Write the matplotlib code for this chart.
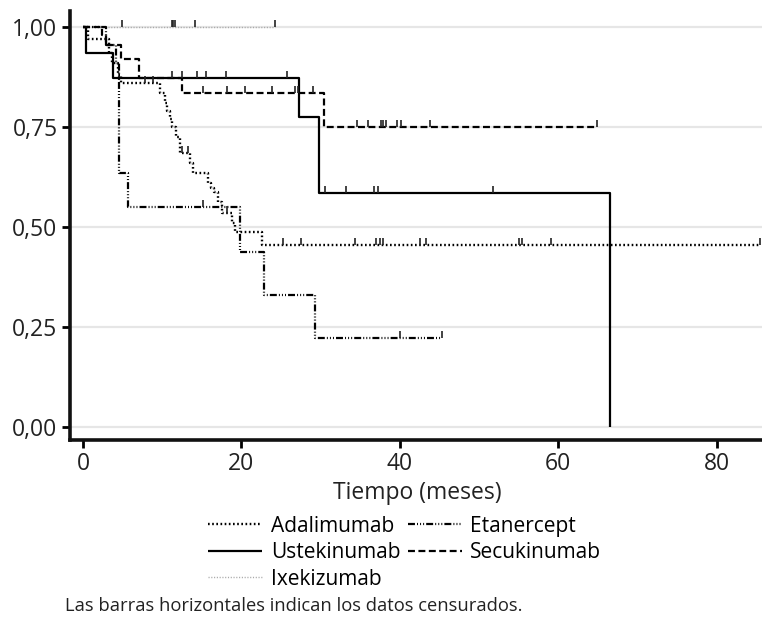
import matplotlib
matplotlib.use("Agg")
import matplotlib.pyplot as plt
import numpy as np

plt.rcParams['font.family'] = ['Open Sans', 'DejaVu Sans']
plt.rcParams['lines.scale_dashes'] = False

# Kaplan-Meier steps: time of each step and survival after it
ada_t = [0, 0.6, 3.3, 3.7, 4.4, 4.8, 9.7, 10.3, 10.6, 11.0, 11.2, 11.8, 12.3,
         13.5, 13.9, 15.8, 16.2, 16.6, 17.1, 17.5, 18.8, 19.2, 22.6]
ada_s = [1.0, 0.97, 0.935, 0.91, 0.88, 0.86, 0.835, 0.81, 0.79, 0.77, 0.75,
         0.725, 0.685, 0.66, 0.635, 0.61, 0.5975, 0.5875, 0.5625, 0.535, 0.51,
         0.4875, 0.455]
ada_end = 85.5
ada_cens = [7.8, 8.8, 12.5, 13.3, 18.2, 25.2, 27.5, 34.3, 37.0, 37.5, 37.9,
            42.6, 43.3, 55.0, 55.4, 59.1, 85.5]

eta_t = [0, 2.9, 4.2, 4.6, 5.7, 19.8, 22.8, 29.3]
eta_s = [1.0, 0.955, 0.91, 0.635, 0.55, 0.4375, 0.33, 0.2225]
eta_end = 45.3
eta_cens = [15.2, 40.0, 45.3]

ust_t = [0, 0.4, 3.8, 27.3, 29.8, 66.6]
ust_s = [1.0, 0.935, 0.872, 0.775, 0.585, 0.0]
ust_end = 66.6
ust_cens = [11.2, 12.5, 14.4, 15.5, 18.1, 25.8, 30.6, 33.2, 36.8, 37.2, 51.8]

sec_t = [0, 2.35, 2.9, 4.8, 7.05, 12.5, 30.4]
sec_s = [1.0, 0.98, 0.955, 0.92, 0.872, 0.835, 0.75]
sec_end = 64.9
sec_cens = [15.1, 18.2, 20.4, 23.9, 26.8, 27.1, 29.0, 34.6, 36.0, 37.6, 37.9,
            38.2, 39.6, 40.1, 43.8, 64.9]

ixe_t = [0]
ixe_s = [1.0]
ixe_end = 24.2
ixe_cens = [4.9, 11.2, 11.4, 11.6, 14.1, 24.2]

y_ticks = [0.0, 0.25, 0.5, 0.75, 1.0]
y_labels = ["0,00", "0,25", "0,50", "0,75", "1,00"]
x_ticks = [0, 20, 40, 60, 80]

################################################################################

def km(ax, t, s, end, cens, label, **kw):
   tt = list(t) + [end]
   ss = list(s) + [s[-1]]
   line, = ax.step(tt, ss, where="post", label=label, solid_capstyle="butt",
                   dash_capstyle="butt", **kw)
   idx = np.searchsorted(t, cens, side="right") - 1
   yc = np.array(s)[idx]
   ax.vlines(cens, yc, yc + 0.018, color="#222222", lw=1.2, zorder=4)
   return line

fig = plt.figure(figsize=(7.62, 6.28), dpi=100)
ax = fig.add_axes([0.0919, 0.2994, 0.9081, 0.6831])

for y in y_ticks:
   ax.axhline(y, color="#e6e6e6", lw=1.6, zorder=0)

h_ada = km(ax, ada_t, ada_s, ada_end, ada_cens, "Adalimumab", color="black",
           lw=1.7, linestyle=(0, (1.2, 1.8)), zorder=3)
h_ust = km(ax, ust_t, ust_s, ust_end, ust_cens, "Ustekinumab", color="black",
           lw=1.6, zorder=3)
h_ixe = km(ax, ixe_t, ixe_s, ixe_end, ixe_cens, "Ixekizumab", color="#a8a8a8",
           lw=1.0, linestyle=(0, (0.8, 1.2)), zorder=2)
h_eta = km(ax, eta_t, eta_s, eta_end, eta_cens, "Etanercept", color="black",
           lw=1.6, linestyle=(0, (5, 1.5, 0.7, 1.5, 0.7, 1.5, 0.7, 1.5)), zorder=3)
h_sec = km(ax, sec_t, sec_s, sec_end, sec_cens, "Secukinumab", color="black",
           lw=1.6, linestyle=(0, (5, 2.5)), zorder=3)

ax.set_xlim(-1.64, 85.73)
ax.set_ylim(-0.032, 1.04)
ax.set_xticks(x_ticks)
ax.set_yticks(y_ticks)
ax.set_yticklabels(y_labels)
ax.tick_params(axis="both", direction="out", length=6, width=2, labelsize=16.5,
               colors="black", labelcolor="#222222", pad=3)
for side in ["top", "right"]:
   ax.spines[side].set_visible(False)
for side in ["left", "bottom"]:
   ax.spines[side].set_linewidth(2.6)
   ax.spines[side].set_color("#111111")

fig.text(0.547, 0.215, "Tiempo (meses)", ha="center", va="center",
         fontsize=16.5, color="#222222")

fig.legend(handles=[h_ada, h_ust, h_ixe, h_eta, h_sec], ncol=2,
           loc="center", bbox_to_anchor=(0.531, 0.12), frameon=False,
           fontsize=15, handlelength=2.6, handletextpad=0.4,
           columnspacing=0.35, labelspacing=0.27, borderpad=0.0)

fig.text(0.085, 0.035, "Las barras horizontales indican los datos censurados.",
         ha="left", va="center", fontsize=13.2, color="#222222")

fig.savefig("out.png", dpi=100)
